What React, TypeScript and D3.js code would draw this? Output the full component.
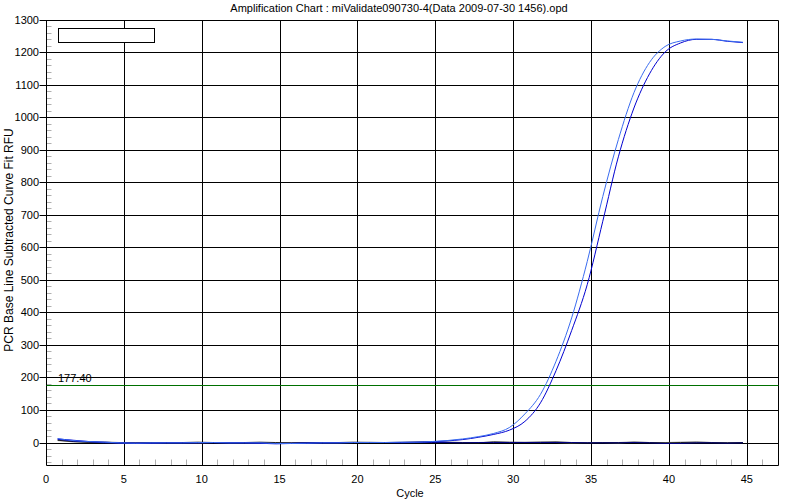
import React from "react";
import * as d3 from "d3";

const cycles = [
  0.75, 1.75, 2.75, 3.75, 4.75, 5.75, 6.75, 7.75, 8.75, 9.75, 10.75, 11.75, 12.75, 13.75, 14.75,
  15.75, 16.75, 17.75, 18.75, 19.75, 20.75, 21.75, 22.75, 23.75, 24.75, 25.75, 26.75, 27.75, 28.75,
  29.75, 30.75, 31.75, 32.75, 33.75, 34.75, 35.75, 36.75, 37.75, 38.75, 39.75, 40.75, 41.75, 42.75,
  43.75, 44.75,
];

const sampleLight = [
  12, 6, 3, 1, -1, -2, -1, -1, -1, 0, 0, -1, -1, -1, -3, -3, -2, -1, -1, 0, 0, 0, 1, 1,
  3, 6, 11, 18, 28, 46, 88, 148, 250, 383, 556, 756, 931, 1075, 1168, 1217, 1234, 1240, 1239, 1234, 1230,
];
const sampleDark = [
  11, 7, 3, 1, -1, -2, -2, -1, -1, -1, 0, -1, -1, -2, -4, -3, -2, -1, -1, 0, 0, 0, 0, 1,
  2, 5, 9, 16, 25, 38, 65, 122, 221, 344, 485, 680, 878, 1028, 1133, 1200, 1228, 1239, 1239, 1233, 1229,
];
const negBlack = [
  7, 3, 1, 1, 0, -1, 0, 0, 0, 1, 0, -1, 0, 1, 0, -1, 0, 0, 0, 1, 0, 0, 0, 1, 2, 1, 0, -1, 2, 1, 0,
  1, 2, 0, -1, 0, 0, 1, 0, -1, 0, 1, 0, -1, 0,
];
const negGray = [
  6, 2, 0, 0, -1, -1, -1, 0, 0, -1, 0, 0, 0, -1, -2, -1, 0, 0, 0, 0, 1, 0, 1, 1, 1, 0, 0, 0, 1, 0,
  1, 1, 0, -1, 0, 0, -1, 1, 0, 0, 1, 1, 0, 0, 0,
];
const negNavy = [
  10, 4, 2, -1, -2, -2, -1, -1, -1, 0, -1, -1, -1, -2, -3, -2, -1, -1, 0, 0, 0, 0, -1, 0, 0, 0, -1,
  0, 0, 0, 0, 0, 0, 0, -1, -1, -1, 0, -1, -3, -3, -1, -1, -2, -1,
];

const xTicks = [0, 5, 10, 15, 20, 25, 30, 35, 40, 45];
const yTicks = [0, 100, 200, 300, 400, 500, 600, 700, 800, 900, 1000, 1100, 1200, 1300];
const threshold = 177.4;
const thresholdLabel = "177.40";
const title = "Amplification Chart : miValidate090730-4(Data 2009-07-30 1456).opd";
const xLabel = "Cycle";
const yLabel = "PCR Base Line Subtracted Curve Fit RFU";

const seriesList = [
  { name: "negGray", values: negGray, color: "#808080", smooth: false },
  { name: "negBlack", values: negBlack, color: "#202020", smooth: false },
  { name: "negNavy", values: negNavy, color: "#000080", smooth: false },
  { name: "sampleDark", values: sampleDark, color: "#0000d0", smooth: true },
  { name: "sampleLight", values: sampleLight, color: "#3a6cf0", smooth: true },
];

const FONT = "'Liberation Sans', Arial, sans-serif";

export default function App() {
  const left = 46, right = 778, top = 19.5, bottom = 465.3;
  const x = d3.scaleLinear().domain([0, 47]).range([left, right]);
  const y = d3.scaleLinear().domain([-70, 1300]).range([bottom, top]);
  const px = (v: number) => Math.round(v) + 0.5;

  const minorY = d3.range(-60, 1300, 20).filter((v) => v % 100 !== 0);
  const minorX = d3.range(1, 47, 1).filter((v) => v % 5 !== 0);

  const lineStraight = d3
    .line<number>()
    .x((_, i) => x(cycles[i]))
    .y((d) => y(d));
  const lineSmooth = d3
    .line<number>()
    .x((_, i) => x(cycles[i]))
    .y((d) => y(d))
    .curve(d3.curveMonotoneX);

  const L = px(left), R = px(right), T = px(top), B = px(bottom);

  return (
    <svg
      width={800}
      height={500}
      style={{ position: "absolute", left: 0, top: 0, background: "#fff" }}
      fontFamily={FONT}
    >
      <rect x={0} y={0} width={800} height={500} fill="#fff" />
      <text x={399} y={12} fontSize={11} textAnchor="middle" fill="#000">
        {title}
      </text>
      {minorY.map((v) => (
        <line key={"my" + v} x1={L} x2={L + 5} y1={px(y(v))} y2={px(y(v))} stroke="#b0b0b0" />
      ))}
      {minorX.map((v) => (
        <line key={"mx" + v} x1={px(x(v))} x2={px(x(v))} y1={B - 6} y2={B} stroke="#b0b0b0" />
      ))}
      {yTicks.map((v) => (
        <line key={"gy" + v} x1={L - 7} x2={R} y1={px(y(v))} y2={px(y(v))} stroke="#000" />
      ))}
      {xTicks.filter((v) => v > 0).map((v) => (
        <line key={"gx" + v} x1={px(x(v))} x2={px(x(v))} y1={T} y2={B} stroke="#000" />
      ))}
      <line x1={L} x2={L} y1={T} y2={B} stroke="#000" />
      <line x1={R} x2={R} y1={T} y2={B} stroke="#000" />
      <line x1={L} x2={R} y1={B} y2={B} stroke="#000" />
      <line x1={L} x2={R} y1={px(y(threshold))} y2={px(y(threshold))} stroke="#007000" />
      <text x={58} y={382} fontSize={11} fill="#000">
        {thresholdLabel}
      </text>
      {seriesList.map((s) => (
        <path
          key={s.name}
          d={(s.smooth ? lineSmooth : lineStraight)(s.values) || ""}
          fill="none"
          stroke={s.color}
          strokeWidth={1}
        />
      ))}
      <rect x={58.5} y={28.5} width={96} height={14} fill="#fff" stroke="#000" />
      {yTicks.map((v) => (
        <text key={"ly" + v} x={39} y={y(v) + 4} fontSize={11} textAnchor="end" fill="#000">
          {v}
        </text>
      ))}
      {xTicks.map((v) => (
        <text key={"lx" + v} x={x(v)} y={483} fontSize={11} textAnchor="middle" fill="#000">
          {v}
        </text>
      ))}
      <text x={410} y={497} fontSize={11} textAnchor="middle" fill="#000">
        {xLabel}
      </text>
      <text
        transform={`translate(13,240) rotate(-90)`}
        fontSize={12}
        textAnchor="middle"
        fill="#000"
      >
        {yLabel}
      </text>
    </svg>
  );
}
